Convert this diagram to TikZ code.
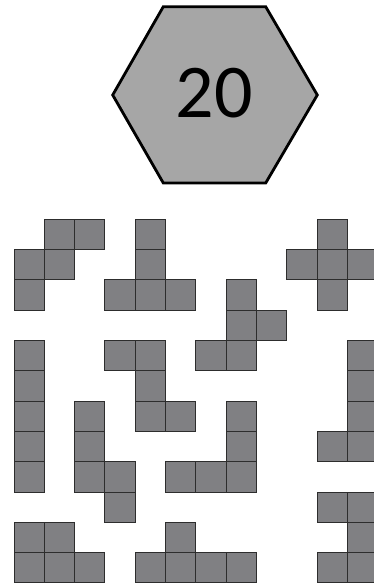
\documentclass[tikz,border=0pt]{standalone}
\usepackage{fontspec}
\setmainfont{Carlito}
\definecolor{hexfill}{RGB}{166,166,166}
\definecolor{cellfill}{RGB}{128,128,131}
\definecolor{celledge}{RGB}{45,45,45}
\begin{document}
\begin{tikzpicture}[x=1pt,y=-1pt,
  cell/.style={fill=cellfill,draw=celledge,line width=0.9pt},
  hexa/.style={fill=hexfill,draw=black,line width=2.8pt,line join=miter}]
\clip (0,0) rectangle (374,584);
\fill[white] (0,0) rectangle (374,584);
% hexagon
\draw[hexa] (163.3,6.7) -- (265.7,6.7) -- (317.3,95) -- (265.7,183) -- (163.3,183) -- (112.7,95) -- cycle;
\node[anchor=base,inner sep=0pt] (num) at (214.5,117) {\fontsize{76}{76}\selectfont 20};
% pentominoes
\foreach \c/\r in {
  1/0,2/0,0/1,1/1,0/2,            % W
  4/0,4/1,3/2,4/2,5/2,            % T
  10/0,9/1,10/1,11/1,10/2,        % X
  7/2,7/3,8/3,6/4,7/4,            % F
  3/4,4/4,4/5,4/6,5/6,            % Z
  0/4,0/5,0/6,0/7,0/8,            % I
  2/6,2/7,2/8,3/8,3/9,            % N
  7/6,7/7,5/8,6/8,7/8,            % V
  11/4,11/5,11/6,11/7,10/7,       % L
  10/9,11/9,11/10,10/11,11/11,    % U
  0/10,1/10,0/11,1/11,2/11,       % P
  5/10,4/11,5/11,6/11,7/11}       % Y
  \draw[cell] ({14+\c*30.3},{219.3+\r*30.3}) rectangle ++(30.3,30.3);
\end{tikzpicture}
\end{document}
